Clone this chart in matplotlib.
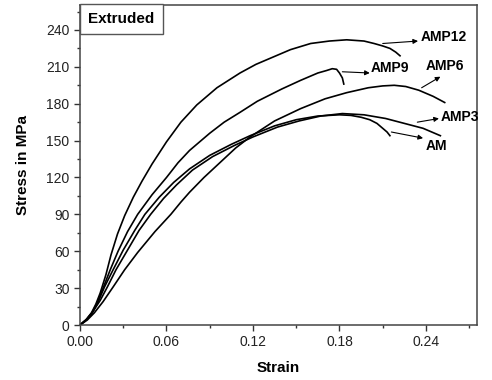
import matplotlib
matplotlib.use("Agg")
import matplotlib.pyplot as plt
from matplotlib.patches import Rectangle
from matplotlib.ticker import MultipleLocator

plt.rcParams['font.family'] = ['Liberation Sans', 'DejaVu Sans']

# stress-strain curves (strain, MPa)
amp12_strain = [0, 0.004, 0.008, 0.011, 0.014, 0.018, 0.0215, 0.026, 0.031, 0.037,
                0.043, 0.050, 0.060, 0.070, 0.081, 0.095, 0.111, 0.122, 0.130, 0.146,
                0.160, 0.173, 0.185, 0.197, 0.204, 0.210, 0.215, 0.219, 0.222]
amp12_stress = [0, 4, 10, 17, 26, 41, 57, 74, 89, 104,
                117, 131, 149, 165, 179, 193, 205, 212, 216, 224,
                229, 231, 232, 231, 229, 227, 225, 222, 219]

amp9_strain = [0, 0.004, 0.008, 0.012, 0.016, 0.021, 0.0264, 0.033, 0.040, 0.050,
               0.060, 0.068, 0.076, 0.090, 0.100, 0.111, 0.123, 0.140, 0.153, 0.165,
               0.171, 0.175, 0.178, 0.180, 0.182, 0.183]
amp9_stress = [0, 4, 9, 18, 30, 45, 60, 76, 90, 106,
               120, 132, 142, 156, 165, 173, 182, 192, 199, 205,
               207, 208.5, 208, 205, 201, 196]

amp6_strain = [0, 0.005, 0.010, 0.016, 0.023, 0.031, 0.040, 0.052, 0.063, 0.070,
               0.076, 0.086, 0.097, 0.108, 0.118, 0.135, 0.153, 0.170, 0.185, 0.200,
               0.210, 0.218, 0.226, 0.235, 0.245, 0.253]
amp6_stress = [0, 4, 10, 19, 31, 45, 59, 76, 90, 100,
               108, 120, 132, 144, 153, 166, 176, 184, 189, 193,
               194.5, 195, 194, 191, 186, 181]

amp3_strain = [0, 0.005, 0.009, 0.014, 0.019, 0.025, 0.033, 0.041, 0.049, 0.058,
               0.067, 0.078, 0.092, 0.107, 0.120, 0.137, 0.152, 0.167, 0.182, 0.197,
               0.212, 0.225, 0.238, 0.250]
amp3_stress = [0, 5, 11, 20, 31, 45, 61, 77, 90, 103,
               114, 126, 137, 146, 153, 161, 166, 170, 172, 171,
               168, 164, 160, 154]

am_strain = [0, 0.005, 0.009, 0.013, 0.017, 0.023, 0.030, 0.038, 0.045, 0.055,
             0.065, 0.076, 0.090, 0.105, 0.118, 0.135, 0.150, 0.165, 0.180, 0.188,
             0.195, 0.201, 0.206, 0.210, 0.213, 0.215]
am_stress = [0, 5, 11, 20, 31, 45, 61, 77, 90, 104,
             116, 127, 138, 147, 154, 162, 167, 170, 171, 170.5,
             169, 167, 164, 160, 157, 154]

# label, arrow tail (on curve), arrow head, text position
labels = ['AMP12', 'AMP9', 'AMP6', 'AMP3', 'AM']
tails = [(0.210, 229), (0.182, 206), (0.237, 193), (0.234, 165), (0.216, 157)]
heads = [(0.2345, 231), (0.201, 205), (0.250, 202), (0.249, 168), (0.238, 152)]
text_pos = [(0.236, 234), (0.2015, 209), (0.2395, 211), (0.250, 169), (0.2395, 146)]

fig = plt.figure(figsize=(4.92, 3.80), dpi=100)
ax = fig.add_axes([0.1626, 0.1447, 0.8069, 0.8421])

for s, t in [(amp12_strain, amp12_stress), (amp9_strain, amp9_stress),
             (amp6_strain, amp6_stress), (amp3_strain, amp3_stress),
             (am_strain, am_stress)]:
    ax.plot(s, t, color='black', lw=1.2, solid_joinstyle='round')

for lab, tl, hd, tp in zip(labels, tails, heads, text_pos):
    ax.annotate('', xy=hd, xytext=tl,
                arrowprops=dict(arrowstyle='-|>', color='black', lw=0.8,
                                mutation_scale=7, shrinkA=0, shrinkB=0))
    ax.text(tp[0], tp[1], lab, fontsize=10, fontweight='bold',
            ha='left', va='center', clip_on=False)

ax.set_xlim(0, 0.2754)
ax.set_ylim(0, 260.3)
ax.xaxis.set_major_locator(MultipleLocator(0.06))
ax.xaxis.set_minor_locator(MultipleLocator(0.03))
ax.yaxis.set_major_locator(MultipleLocator(30))
ax.yaxis.set_minor_locator(MultipleLocator(15))
ax.set_xticks([0, 0.06, 0.12, 0.18, 0.24])
ax.set_xticklabels(['0.00', '0.06', '0.12', '0.18', '0.24'])
ax.set_yticks([0, 30, 60, 90, 120, 150, 180, 210, 240])

ax.tick_params(which='major', direction='out', length=4.5, width=1, pad=3,
               labelsize=10, colors='#333333', labelcolor='#222222')
ax.tick_params(which='minor', direction='out', length=2.5, width=1, colors='#333333')
ax.tick_params(top=False, right=False)
for sp in ax.spines.values():
    sp.set_color('#444444')
    sp.set_linewidth(1.1)

ax.set_xlabel('Strain', fontsize=11, fontweight='bold', labelpad=8)
ax.set_ylabel('Stress in MPa', fontsize=11, fontweight='bold', labelpad=12)

ax.add_patch(Rectangle((0, 0.909), 0.209, 0.094, transform=ax.transAxes,
                       facecolor='white', edgecolor='#555555', lw=1.0,
                       clip_on=False, zorder=5))
ax.text(0.1045, 0.956, 'Extruded', transform=ax.transAxes, fontsize=11,
        fontweight='bold', ha='center', va='center', zorder=6)

fig.savefig('out.png', dpi=100)
